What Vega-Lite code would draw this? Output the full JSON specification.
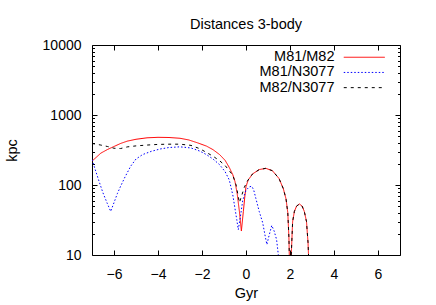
{
  "$schema": "https://vega.github.io/schema/vega-lite/v6.json",
  "width": 308,
  "height": 210,
  "autosize": {"type": "none"},
  "padding": {"left": 92, "top": 45, "right": 36, "bottom": 50},
  "background": "white",
  "title": {"text": "Distances 3-body", "fontSize": 14.5, "fontWeight": "normal", "font": "Liberation Sans", "color": "#000", "anchor": "middle", "frame": "group", "baseline": "alphabetic", "offset": -5},
  "data": {"values": [
    {"s":"M81/M82","t":-7,"d":219},{"s":"M81/M82","t":-6.6,"d":285},{"s":"M81/M82","t":-6.3,"d":321},{"s":"M81/M82","t":-6,"d":355},{"s":"M81/M82","t":-5.7,"d":392},{"s":"M81/M82","t":-5.4,"d":423},{"s":"M81/M82","t":-5,"d":450},{"s":"M81/M82","t":-4.5,"d":472},{"s":"M81/M82","t":-4,"d":480},{"s":"M81/M82","t":-3.5,"d":477},{"s":"M81/M82","t":-3,"d":465},{"s":"M81/M82","t":-2.6,"d":440},{"s":"M81/M82","t":-2.2,"d":400},{"s":"M81/M82","t":-1.8,"d":360},{"s":"M81/M82","t":-1.5,"d":320},{"s":"M81/M82","t":-1.2,"d":272},{"s":"M81/M82","t":-0.95,"d":225},{"s":"M81/M82","t":-0.76,"d":178},{"s":"M81/M82","t":-0.6,"d":140},{"s":"M81/M82","t":-0.5,"d":112},{"s":"M81/M82","t":-0.4,"d":75},{"s":"M81/M82","t":-0.3,"d":42},{"s":"M81/M82","t":-0.21,"d":22},{"s":"M81/M82","t":-0.12,"d":42},{"s":"M81/M82","t":-0.05,"d":70},{"s":"M81/M82","t":0,"d":95},{"s":"M81/M82","t":0.1,"d":118},{"s":"M81/M82","t":0.3,"d":144},{"s":"M81/M82","t":0.6,"d":166},{"s":"M81/M82","t":0.9,"d":173},{"s":"M81/M82","t":1.2,"d":160},{"s":"M81/M82","t":1.5,"d":124},{"s":"M81/M82","t":1.7,"d":88},{"s":"M81/M82","t":1.82,"d":63},{"s":"M81/M82","t":1.9,"d":40},{"s":"M81/M82","t":1.95,"d":18},{"s":"M81/M82","t":1.98,"d":7},{"s":"M81/M82","t":2.0,"d":2},{"s":"M81/M82","t":2.03,"d":6},{"s":"M81/M82","t":2.08,"d":15},{"s":"M81/M82","t":2.12,"d":30},{"s":"M81/M82","t":2.2,"d":42},{"s":"M81/M82","t":2.3,"d":50},{"s":"M81/M82","t":2.43,"d":53.5},{"s":"M81/M82","t":2.55,"d":50},{"s":"M81/M82","t":2.65,"d":42},{"s":"M81/M82","t":2.75,"d":30},{"s":"M81/M82","t":2.82,"d":15},{"s":"M81/M82","t":2.86,"d":7},{"s":"M81/M82","t":2.9,"d":2},
    {"s":"M81/N3077","t":-7,"d":231},{"s":"M81/N3077","t":-6.85,"d":165},{"s":"M81/N3077","t":-6.7,"d":118},{"s":"M81/N3077","t":-6.5,"d":77},{"s":"M81/N3077","t":-6.3,"d":54},{"s":"M81/N3077","t":-6.15,"d":42},{"s":"M81/N3077","t":-6.0,"d":56},{"s":"M81/N3077","t":-5.85,"d":75},{"s":"M81/N3077","t":-5.7,"d":96},{"s":"M81/N3077","t":-5.5,"d":130},{"s":"M81/N3077","t":-5.24,"d":186},{"s":"M81/N3077","t":-5,"d":235},{"s":"M81/N3077","t":-4.7,"d":272},{"s":"M81/N3077","t":-4.3,"d":303},{"s":"M81/N3077","t":-3.9,"d":327},{"s":"M81/N3077","t":-3.5,"d":343},{"s":"M81/N3077","t":-3,"d":351},{"s":"M81/N3077","t":-2.5,"d":338},{"s":"M81/N3077","t":-2.1,"d":305},{"s":"M81/N3077","t":-1.8,"d":272},{"s":"M81/N3077","t":-1.5,"d":235},{"s":"M81/N3077","t":-1.2,"d":195},{"s":"M81/N3077","t":-0.95,"d":155},{"s":"M81/N3077","t":-0.76,"d":118},{"s":"M81/N3077","t":-0.6,"d":72},{"s":"M81/N3077","t":-0.5,"d":46},{"s":"M81/N3077","t":-0.42,"d":32},{"s":"M81/N3077","t":-0.35,"d":23},{"s":"M81/N3077","t":-0.25,"d":36},{"s":"M81/N3077","t":-0.15,"d":60},{"s":"M81/N3077","t":0,"d":84},{"s":"M81/N3077","t":0.15,"d":94},{"s":"M81/N3077","t":0.26,"d":96},{"s":"M81/N3077","t":0.35,"d":85},{"s":"M81/N3077","t":0.45,"d":64},{"s":"M81/N3077","t":0.6,"d":42},{"s":"M81/N3077","t":0.76,"d":28.8},{"s":"M81/N3077","t":0.88,"d":18},{"s":"M81/N3077","t":0.95,"d":14.1},{"s":"M81/N3077","t":1.03,"d":18},{"s":"M81/N3077","t":1.17,"d":26.4},{"s":"M81/N3077","t":1.28,"d":22},{"s":"M81/N3077","t":1.39,"d":16.6},{"s":"M81/N3077","t":1.47,"d":10},{"s":"M81/N3077","t":1.52,"d":5},{"s":"M81/N3077","t":1.56,"d":2},
    {"s":"M82/N3077","t":-7,"d":392},{"s":"M82/N3077","t":-6.6,"d":372},{"s":"M82/N3077","t":-6.3,"d":355},{"s":"M82/N3077","t":-6,"d":335},{"s":"M82/N3077","t":-5.7,"d":332},{"s":"M82/N3077","t":-5.4,"d":350},{"s":"M82/N3077","t":-5,"d":362},{"s":"M82/N3077","t":-4.5,"d":372},{"s":"M82/N3077","t":-4,"d":380},{"s":"M82/N3077","t":-3.5,"d":383},{"s":"M82/N3077","t":-3,"d":383},{"s":"M82/N3077","t":-2.5,"d":368},{"s":"M82/N3077","t":-2.1,"d":330},{"s":"M82/N3077","t":-1.8,"d":292},{"s":"M82/N3077","t":-1.5,"d":258},{"s":"M82/N3077","t":-1.2,"d":222},{"s":"M82/N3077","t":-0.95,"d":190},{"s":"M82/N3077","t":-0.76,"d":160},{"s":"M82/N3077","t":-0.6,"d":138},{"s":"M82/N3077","t":-0.45,"d":100},{"s":"M82/N3077","t":-0.3,"d":56},{"s":"M82/N3077","t":-0.2,"d":70},{"s":"M82/N3077","t":-0.08,"d":92},{"s":"M82/N3077","t":0.05,"d":112},{"s":"M82/N3077","t":0.15,"d":125},{"s":"M82/N3077","t":0.3,"d":144},{"s":"M82/N3077","t":0.6,"d":166},{"s":"M82/N3077","t":0.9,"d":173},{"s":"M82/N3077","t":1.2,"d":160},{"s":"M82/N3077","t":1.5,"d":124},{"s":"M82/N3077","t":1.7,"d":88},{"s":"M82/N3077","t":1.82,"d":63},{"s":"M82/N3077","t":1.9,"d":40},{"s":"M82/N3077","t":1.95,"d":18},{"s":"M82/N3077","t":1.98,"d":7},{"s":"M82/N3077","t":2.0,"d":2},{"s":"M82/N3077","t":2.03,"d":6},{"s":"M82/N3077","t":2.08,"d":15},{"s":"M82/N3077","t":2.12,"d":30},{"s":"M82/N3077","t":2.2,"d":42},{"s":"M82/N3077","t":2.3,"d":50},{"s":"M82/N3077","t":2.43,"d":53.5},{"s":"M82/N3077","t":2.55,"d":50},{"s":"M82/N3077","t":2.65,"d":42},{"s":"M82/N3077","t":2.75,"d":30},{"s":"M82/N3077","t":2.82,"d":15},{"s":"M82/N3077","t":2.86,"d":7},{"s":"M82/N3077","t":2.9,"d":2}
  ]},
  "layer": [
    {
      "mark": {"type": "line", "clip": true, "strokeWidth": 1},
      "encoding": {
        "x": {"field": "t", "type": "quantitative", "scale": {"domain": [-7, 7], "nice": false, "zero": false},
              "axis": {"orient": "bottom", "values": [-6,-4,-2,0,2,4,6], "tickSize": -5, "labelPadding": 17, "title": "Gyr", "titlePadding": 5, "domain": true}},
        "y": {"field": "d", "type": "quantitative", "scale": {"type": "log", "domain": [10, 10000], "nice": false},
              "axis": {"orient": "left", "values": [10,100,1000,10000], "format": "d", "tickSize": -5, "labelPadding": 16, "title": "kpc", "titlePadding": 23, "domain": true}},
        "color": {"field": "s", "type": "nominal", "scale": {"domain": ["M81/M82","M81/N3077","M82/N3077"], "range": ["#ff0000","#0000ff","#000000"]}, "legend": {"title": null}},
        "strokeDash": {"field": "s", "type": "nominal", "scale": {"domain": ["M81/M82","M81/N3077","M82/N3077"], "range": [[1,0],[1.5,2],[3,4]]}, "legend": {"title": null}}
      }
    },
    {
      "mark": {"type": "point", "opacity": 0, "clip": true},
      "encoding": {
        "x": {"field": "t", "type": "quantitative", "axis": {"orient": "top", "values": [-6,-4,-2,0,2,4,6], "tickSize": -5, "labels": false, "title": null, "domain": true}},
        "y": {"field": "d", "type": "quantitative", "axis": {"orient": "right", "values": [10,100,1000,10000], "tickSize": -5, "labels": false, "title": null, "domain": true}}
      }
    },
    {
      "mark": {"type": "point", "opacity": 0, "clip": true},
      "encoding": {
        "x": {"field": "t", "type": "quantitative", "axis": null},
        "y": {"field": "d", "type": "quantitative", "axis": {"orient": "left", "values": [20,30,40,50,60,70,80,90,200,300,400,500,600,700,800,900,2000,3000,4000,5000,6000,7000,8000,9000], "tickSize": -2.5, "labels": false, "title": null, "domain": false}}
      }
    },
    {
      "mark": {"type": "point", "opacity": 0, "clip": true},
      "encoding": {
        "x": {"field": "t", "type": "quantitative", "axis": null},
        "y": {"field": "d", "type": "quantitative", "axis": {"orient": "right", "values": [20,30,40,50,60,70,80,90,200,300,400,500,600,700,800,900,2000,3000,4000,5000,6000,7000,8000,9000], "tickSize": -2.5, "labels": false, "title": null, "domain": false}}
      }
    }
  ],
  "resolve": {"axis": {"x": "independent", "y": "independent"}},
  "config": {
    "view": {"stroke": null},
    "font": "Liberation Sans",
    "axis": {"grid": false, "domainColor": "#000", "tickColor": "#000", "labelColor": "#000", "titleColor": "#000", "labelFont": "Liberation Sans", "titleFont": "Liberation Sans", "labelFontSize": 14, "titleFontSize": 14.5, "titleFontWeight": "normal", "domainWidth": 1, "tickWidth": 1},
    "legend": {"orient": "none", "legendX": 265, "legendY": 5, "symbolType": "M-4.1,0H4.1", "symbolSize": 100, "symbolStrokeWidth": 1, "labelFont": "Liberation Sans", "labelFontSize": 14.5, "labelColor": "#000", "labelAlign": "right", "labelOffset": -37, "rowPadding": 0.2, "labelLimit": 0, "padding": 0}
  }
}
